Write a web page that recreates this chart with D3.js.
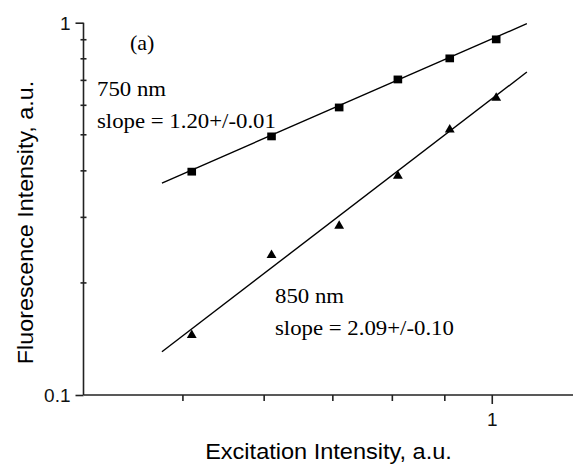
<!DOCTYPE html>
<html>
<head>
<meta charset="utf-8">
<script src="https://cdn.jsdelivr.net/npm/d3@7"></script>
<style>
  body { margin: 0; background: #fff; }
  svg { display: block; }
</style>
</head>
<body>
<div id="chart"></div>
<script>
const W = 573, H = 467;

// data
const excitation = [0.51, 0.61, 0.71, 0.81, 0.91, 1.01];
const fluo750 = [0.398, 0.495, 0.592, 0.704, 0.802, 0.902];
const fluo850 = [0.1448, 0.2375, 0.2847, 0.3877, 0.5163, 0.628];
// straight-line fits (end points)
const fitX = [0.477, 1.082];
const fit750 = [0.371, 0.994];
const fit850 = [0.1307, 0.737];
const yMinorTicks = [0.2, 0.3, 0.4, 0.5, 0.6, 0.7, 0.8, 0.9];
const yMajorTicks = [0.1, 1];
const xMinorTicks = [0.5, 0.6, 0.7, 0.8, 0.9];
const xMajorTicks = [1];

const svg = d3.select("#chart")
    .append("svg")
        .attr("width", W)
        .attr("height", H);

const x = d3.scaleLog()
    .domain([0.4, 1.2])
    .range([83.5, 573]);
const y = d3.scaleLog()
    .domain([0.1, 1])
    .range([395, 22.7]);

const axisColor = "#222";
const sans = "Arial, 'Liberation Sans', sans-serif";
const serif = "'Times New Roman', 'Liberation Serif', serif";

// y axis
const yAxis = svg.append("g").attr("transform", `translate(${x(0.4)},0)`);
yAxis.call(d3.axisLeft(y).tickValues(yMajorTicks).tickSize(8).tickFormat(d => d === 1 ? "1" : "0.1"));
yAxis.select(".domain").attr("d", `M0,${y(0.1)}V${y(1)}`);
yAxis.selectAll(".tick text")
    .attr("x", -13)
    .attr("dy", "0.34em")
    .style("font-family", sans)
    .style("font-size", "19px")
    .attr("fill", "#111");
yAxis.selectAll("line.minor")
    .data(yMinorTicks)
    .enter()
    .append("line")
        .attr("class", "minor")
        .attr("x1", -3).attr("x2", 3)
        .attr("y1", d => y(d)).attr("y2", d => y(d));

// x axis
const xAxis = svg.append("g").attr("transform", `translate(0,${y(0.1)})`);
xAxis.call(d3.axisBottom(x).tickValues(xMajorTicks).tickSize(9).tickFormat(d3.format("d")));
xAxis.select(".domain").attr("d", `M${x(0.4)},0H${W}`);
xAxis.selectAll(".tick text")
    .attr("y", 18)
    .attr("dy", "0.71em")
    .style("font-family", sans)
    .style("font-size", "19px")
    .attr("fill", "#111");
xAxis.selectAll("line.minor")
    .data(xMinorTicks)
    .enter()
    .append("line")
        .attr("class", "minor")
        .attr("x1", d => x(d)).attr("x2", d => x(d))
        .attr("y1", 0).attr("y2", 6);

svg.selectAll(".domain, .tick line, line.minor")
    .attr("stroke", axisColor)
    .attr("stroke-width", 1.6);

// fit lines
const line = d3.line().x(d => x(d[0])).y(d => y(d[1]));
[fit750, fit850].forEach(f => {
    svg.append("path")
        .datum(fitX.map((v, i) => [v, f[i]]))
        .attr("d", line)
        .attr("fill", "none")
        .attr("stroke", "#000")
        .attr("stroke-width", 1.4);
});

// markers
svg.selectAll("rect.sq")
    .data(excitation.map((v, i) => [v, fluo750[i]]))
    .enter()
    .append("rect")
        .attr("class", "sq")
        .attr("x", d => x(d[0]) - 4.3)
        .attr("y", d => y(d[1]) - 3.9)
        .attr("width", 8.6)
        .attr("height", 7.8)
        .attr("fill", "#000");

svg.selectAll("path.tri")
    .data(excitation.map((v, i) => [v, fluo850[i]]))
    .enter()
    .append("path")
        .attr("class", "tri")
        .attr("d", d3.symbol(d3.symbolTriangle, 42))
        .attr("transform", d => `translate(${x(d[0])},${y(d[1])})`)
        .attr("fill", "#000");

// text helper, glyphs a little wide in the original
function label(tx, ty, str, font, size, sx, anchor) {
    svg.append("text")
        .attr("transform", `translate(${tx},${ty}) scale(${sx},1)`)
        .attr("text-anchor", anchor || "start")
        .style("font-family", font)
        .style("font-size", size + "px")
        .attr("fill", "#000")
        .text(str);
}

label(130, 50, "(a)", serif, 20, 1.1);
label(97, 96, "750 nm", serif, 20, 1.14);
label(97, 128, "slope = 1.20+/-0.01", serif, 20, 1.14);
label(275, 303, "850 nm", serif, 20, 1.14);
label(275, 335, "slope = 2.09+/-0.10", serif, 20, 1.14);

label(328.5, 459, "Excitation Intensity, a.u.", sans, 22, 1.07, "middle");

svg.append("text")
    .attr("transform", "translate(33,222.5) rotate(-90) scale(1.06,1)")
    .attr("text-anchor", "middle")
    .style("font-family", sans)
    .style("font-size", "22px")
    .attr("fill", "#000")
    .text("Fluorescence Intensity, a.u.");
</script>
</body>
</html>
